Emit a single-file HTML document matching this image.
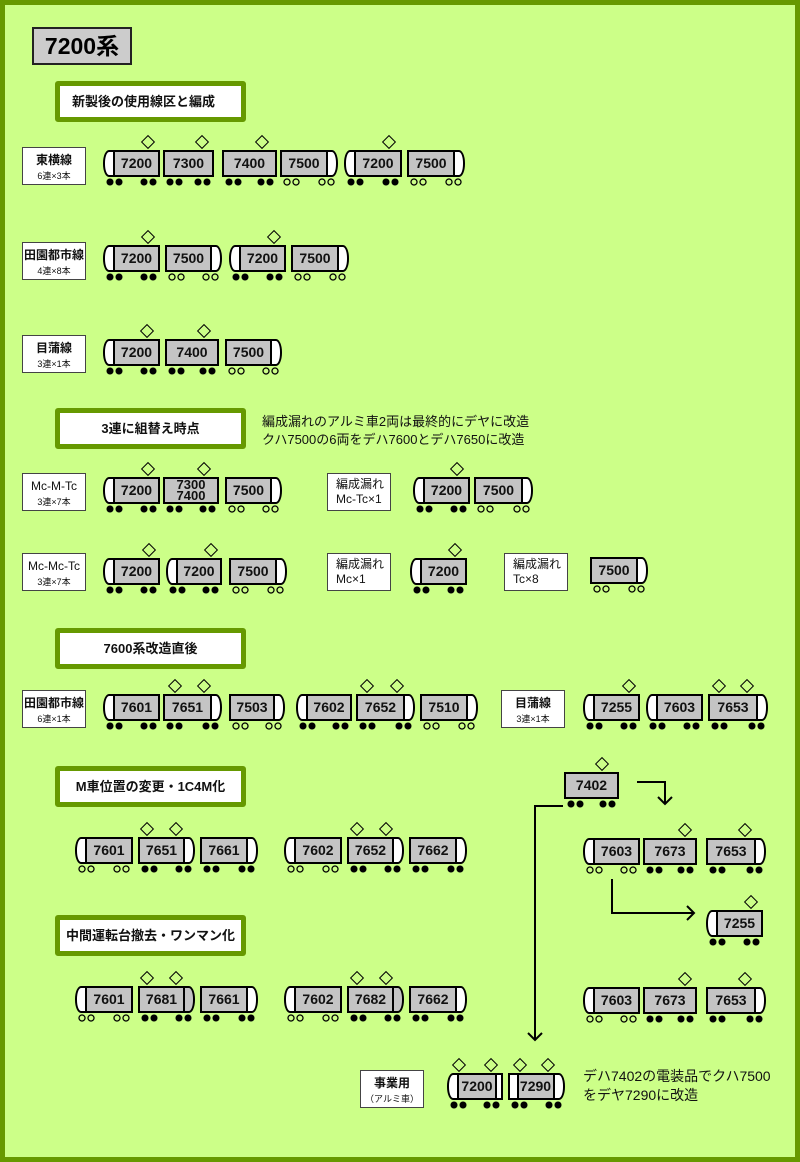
<!DOCTYPE html>
<html><head><meta charset="utf-8">
<style>
*{margin:0;padding:0}
body{width:800px;height:1162px;background:#669900;position:relative;overflow:hidden;font-family:"Liberation Sans","Noto Sans CJK JP",sans-serif}
#bg{position:absolute;left:5px;top:5px;width:790px;height:1152px;background:#ccff88}
.car{position:absolute;height:27px}
.b{position:absolute;top:0;height:27px;background:#c4c4c4;border:2px solid #000;box-sizing:border-box;font:bold 14px/23px "Liberation Sans",sans-serif;text-align:center;color:#111}
.nl,.nr{position:absolute;top:0;width:16px;height:27px;background:#fff;border:2px solid #000;box-sizing:border-box}
.nl{left:0;border-radius:6px 0 0 6px/13px 0 0 13px}
.nr{right:0;border-radius:0 6px 6px 0/0 13px 13px 0}
.g{background:#c4c4c4}
.w{position:absolute;top:28px;left:0;right:0;height:8px;background-repeat:no-repeat;background-size:8px 8px;background-position:3px 0,12px 0,right 12px top 0,right 3px top 0}
.f{background-image:radial-gradient(circle,#000 3.2px,transparent 3.8px),radial-gradient(circle,#000 3.2px,transparent 3.8px),radial-gradient(circle,#000 3.2px,transparent 3.8px),radial-gradient(circle,#000 3.2px,transparent 3.8px)}
.o{background-image:radial-gradient(circle,transparent 2.1px,#000 2.6px,#000 3.3px,transparent 3.9px),radial-gradient(circle,transparent 2.1px,#000 2.6px,#000 3.3px,transparent 3.9px),radial-gradient(circle,transparent 2.1px,#000 2.6px,#000 3.3px,transparent 3.9px),radial-gradient(circle,transparent 2.1px,#000 2.6px,#000 3.3px,transparent 3.9px)}
.p{position:absolute;top:-13px;width:8px;height:8px;border:1.5px solid #000;transform:rotate(45deg)}
.lb{position:absolute;width:64px;height:38px;background:#fff;border:1px solid #444;box-sizing:border-box;text-align:center;color:#111}
.lb b{display:block;font-size:12px;margin-top:5px;line-height:14px}
.lb span{display:block;font-size:9px;margin-top:2px}
.lb2{text-align:left;padding-left:8px}
.lb2 b{font-size:12px;font-weight:normal;margin-top:3px;line-height:15px}
.h{position:absolute;left:55px;width:191px;height:41px;box-sizing:border-box;border:5px solid #669900;border-radius:3px;background:#fff;font:bold 13px/31px "Liberation Sans","Noto Sans CJK JP",sans-serif;text-align:center;color:#111}
.t{position:absolute;font-size:13px;line-height:18px;color:#111}
</style></head><body>
<div id="bg"></div>

<div style="position:absolute;left:32px;top:27px;width:100px;height:38px;box-sizing:border-box;background:#ccc;border:2px solid #222;font:bold 23px/34px 'Liberation Sans','Noto Sans CJK JP',sans-serif;text-align:center">7200系</div>

<div class="h" style="top:81px;text-align:left;padding-left:12px">新製後の使用線区と編成</div>
<div class="h" style="top:408px">3連に組替え時点</div>
<div class="h" style="top:628px">7600系改造直後</div>
<div class="h" style="top:766px">M車位置の変更・1C4M化</div>
<div class="h" style="top:915px">中間運転台撤去・ワンマン化</div>

<div class="lb" style="left:22px;top:147px"><b>東横線</b><span>6連×3本</span></div>
<div class="lb" style="left:22px;top:242px"><b>田園都市線</b><span>4連×8本</span></div>
<div class="lb" style="left:22px;top:335px"><b>目蒲線</b><span>3連×1本</span></div>
<div class="lb" style="left:22px;top:473px"><b style="font-weight:normal">Mc-M-Tc</b><span>3連×7本</span></div>
<div class="lb" style="left:22px;top:553px"><b style="font-weight:normal">Mc-Mc-Tc</b><span>3連×7本</span></div>
<div class="lb lb2" style="left:327px;top:473px"><b>編成漏れ<br>Mc-Tc×1</b></div>
<div class="lb lb2" style="left:327px;top:553px"><b>編成漏れ<br>Mc×1</b></div>
<div class="lb lb2" style="left:504px;top:553px"><b>編成漏れ<br>Tc×8</b></div>
<div class="lb" style="left:22px;top:690px"><b>田園都市線</b><span>6連×1本</span></div>
<div class="lb" style="left:501px;top:690px"><b>目蒲線</b><span>3連×1本</span></div>
<div class="lb" style="left:360px;top:1070px"><b>事業用</b><span style="font-size:9px">（アルミ車）</span></div>

<div class="t" style="left:262px;top:413px">編成漏れのアルミ車2両は最終的にデヤに改造<br>クハ7500の6両をデハ7600とデハ7650に改造</div>
<div class="t" style="left:583px;top:1067px;font-size:14px;line-height:19px">デハ7402の電装品でクハ7500<br>をデヤ7290に改造</div>

<!-- Row A -->
<div class="car" style="left:103px;top:150px;width:57px"><div class="nl"></div><div class="b" style="left:10px;right:0">7200</div><i class="w f"></i><s class="p" style="left:40px"></s></div>
<div class="car" style="left:163px;top:150px;width:51px"><div class="b" style="left:0;right:0">7300</div><i class="w f"></i><s class="p" style="left:34px"></s></div>
<div class="car" style="left:222px;top:150px;width:55px"><div class="b" style="left:0;right:0">7400</div><i class="w f"></i><s class="p" style="left:35px"></s></div>
<div class="car" style="left:280px;top:150px;width:58px"><div class="nr"></div><div class="b" style="left:0;right:10px">7500</div><i class="w o"></i></div>
<div class="car" style="left:344px;top:150px;width:58px"><div class="nl"></div><div class="b" style="left:10px;right:0">7200</div><i class="w f"></i><s class="p" style="left:40px"></s></div>
<div class="car" style="left:407px;top:150px;width:58px"><div class="nr"></div><div class="b" style="left:0;right:10px">7500</div><i class="w o"></i></div>

<!-- Row B -->
<div class="car" style="left:103px;top:245px;width:57px"><div class="nl"></div><div class="b" style="left:10px;right:0">7200</div><i class="w f"></i><s class="p" style="left:40px"></s></div>
<div class="car" style="left:165px;top:245px;width:57px"><div class="nr"></div><div class="b" style="left:0;right:10px">7500</div><i class="w o"></i></div>
<div class="car" style="left:229px;top:245px;width:57px"><div class="nl"></div><div class="b" style="left:10px;right:0">7200</div><i class="w f"></i><s class="p" style="left:40px"></s></div>
<div class="car" style="left:291px;top:245px;width:58px"><div class="nr"></div><div class="b" style="left:0;right:10px">7500</div><i class="w o"></i></div>

<!-- Row C -->
<div class="car" style="left:103px;top:339px;width:57px"><div class="nl"></div><div class="b" style="left:10px;right:0">7200</div><i class="w f"></i><s class="p" style="left:39px"></s></div>
<div class="car" style="left:165px;top:339px;width:54px"><div class="b" style="left:0;right:0">7400</div><i class="w f"></i><s class="p" style="left:34px"></s></div>
<div class="car" style="left:225px;top:339px;width:57px"><div class="nr"></div><div class="b" style="left:0;right:10px">7500</div><i class="w o"></i></div>

<!-- Row D -->
<div class="car" style="left:103px;top:477px;width:57px"><div class="nl"></div><div class="b" style="left:10px;right:0">7200</div><i class="w f"></i><s class="p" style="left:40px"></s></div>
<div class="car" style="left:163px;top:477px;width:56px"><div class="b" style="left:0;right:0;line-height:11px;font-size:13px">7300<br>7400</div><i class="w f"></i><s class="p" style="left:36px"></s></div>
<div class="car" style="left:225px;top:477px;width:57px"><div class="nr"></div><div class="b" style="left:0;right:10px">7500</div><i class="w o"></i></div>
<div class="car" style="left:413px;top:477px;width:57px"><div class="nl"></div><div class="b" style="left:10px;right:0">7200</div><i class="w f"></i><s class="p" style="left:39px"></s></div>
<div class="car" style="left:474px;top:477px;width:59px"><div class="nr"></div><div class="b" style="left:0;right:10px">7500</div><i class="w o"></i></div>

<!-- Row E -->
<div class="car" style="left:103px;top:558px;width:57px"><div class="nl"></div><div class="b" style="left:10px;right:0">7200</div><i class="w f"></i><s class="p" style="left:41px"></s></div>
<div class="car" style="left:166px;top:558px;width:56px"><div class="nl"></div><div class="b" style="left:10px;right:0">7200</div><i class="w f"></i><s class="p" style="left:40px"></s></div>
<div class="car" style="left:229px;top:558px;width:58px"><div class="nr"></div><div class="b" style="left:0;right:10px">7500</div><i class="w o"></i></div>
<div class="car" style="left:410px;top:558px;width:57px"><div class="nl"></div><div class="b" style="left:10px;right:0">7200</div><i class="w f"></i><s class="p" style="left:40px"></s></div>
<div class="car" style="left:590px;top:557px;width:58px"><div class="nr"></div><div class="b" style="left:0;right:10px">7500</div><i class="w o"></i></div>

<!-- Row F -->
<div class="car" style="left:103px;top:694px;width:57px"><div class="nl"></div><div class="b" style="left:10px;right:0">7601</div><i class="w f"></i></div>
<div class="car" style="left:163px;top:694px;width:59px"><div class="nr"></div><div class="b" style="left:0;right:10px">7651</div><i class="w f"></i><s class="p" style="left:7px"></s><s class="p" style="left:36px"></s></div>
<div class="car" style="left:229px;top:694px;width:56px"><div class="nr"></div><div class="b" style="left:0;right:10px">7503</div><i class="w o"></i></div>
<div class="car" style="left:296px;top:694px;width:56px"><div class="nl"></div><div class="b" style="left:10px;right:0">7602</div><i class="w f"></i></div>
<div class="car" style="left:356px;top:694px;width:59px"><div class="nr"></div><div class="b" style="left:0;right:10px">7652</div><i class="w f"></i><s class="p" style="left:6px"></s><s class="p" style="left:36px"></s></div>
<div class="car" style="left:420px;top:694px;width:58px"><div class="nr"></div><div class="b" style="left:0;right:10px">7510</div><i class="w o"></i></div>
<div class="car" style="left:583px;top:694px;width:57px"><div class="nl"></div><div class="b" style="left:10px;right:0">7255</div><i class="w f"></i><s class="p" style="left:41px"></s></div>
<div class="car" style="left:646px;top:694px;width:57px"><div class="nl"></div><div class="b" style="left:10px;right:0">7603</div><i class="w f"></i></div>
<div class="car" style="left:708px;top:694px;width:60px"><div class="nr"></div><div class="b" style="left:0;right:10px">7653</div><i class="w f"></i><s class="p" style="left:6px"></s><s class="p" style="left:34px"></s></div>

<!-- 7402 -->
<div class="car" style="left:564px;top:772px;width:55px"><div class="b" style="left:0;right:0">7402</div><i class="w f"></i><s class="p" style="left:33px"></s></div>

<!-- Row G -->
<div class="car" style="left:75px;top:837px;width:58px"><div class="nl"></div><div class="b" style="left:10px;right:0">7601</div><i class="w o"></i></div>
<div class="car" style="left:138px;top:837px;width:57px"><div class="nr"></div><div class="b" style="left:0;right:10px">7651</div><i class="w f"></i><s class="p" style="left:4px"></s><s class="p" style="left:33px"></s></div>
<div class="car" style="left:200px;top:837px;width:58px"><div class="nr"></div><div class="b" style="left:0;right:10px">7661</div><i class="w f"></i></div>
<div class="car" style="left:284px;top:837px;width:58px"><div class="nl"></div><div class="b" style="left:10px;right:0">7602</div><i class="w o"></i></div>
<div class="car" style="left:347px;top:837px;width:57px"><div class="nr"></div><div class="b" style="left:0;right:10px">7652</div><i class="w f"></i><s class="p" style="left:5px"></s><s class="p" style="left:34px"></s></div>
<div class="car" style="left:409px;top:837px;width:58px"><div class="nr"></div><div class="b" style="left:0;right:10px">7662</div><i class="w f"></i></div>
<div class="car" style="left:583px;top:838px;width:57px"><div class="nl"></div><div class="b" style="left:10px;right:0">7603</div><i class="w o"></i></div>
<div class="car" style="left:643px;top:838px;width:54px"><div class="b" style="left:0;right:0">7673</div><i class="w f"></i><s class="p" style="left:37px"></s></div>
<div class="car" style="left:706px;top:838px;width:60px"><div class="nr"></div><div class="b" style="left:0;right:10px">7653</div><i class="w f"></i><s class="p" style="left:34px"></s></div>

<!-- 7255 -->
<div class="car" style="left:706px;top:910px;width:57px"><div class="nl"></div><div class="b" style="left:10px;right:0">7255</div><i class="w f"></i><s class="p" style="left:40px"></s></div>

<!-- Row H -->
<div class="car" style="left:75px;top:986px;width:58px"><div class="nl"></div><div class="b" style="left:10px;right:0">7601</div><i class="w o"></i></div>
<div class="car" style="left:138px;top:986px;width:57px"><div class="nr g"></div><div class="b" style="left:0;right:10px">7681</div><i class="w f"></i><s class="p" style="left:4px"></s><s class="p" style="left:33px"></s></div>
<div class="car" style="left:200px;top:986px;width:58px"><div class="nr"></div><div class="b" style="left:0;right:10px">7661</div><i class="w f"></i></div>
<div class="car" style="left:284px;top:986px;width:58px"><div class="nl"></div><div class="b" style="left:10px;right:0">7602</div><i class="w o"></i></div>
<div class="car" style="left:347px;top:986px;width:57px"><div class="nr g"></div><div class="b" style="left:0;right:10px">7682</div><i class="w f"></i><s class="p" style="left:5px"></s><s class="p" style="left:34px"></s></div>
<div class="car" style="left:409px;top:986px;width:58px"><div class="nr"></div><div class="b" style="left:0;right:10px">7662</div><i class="w f"></i></div>
<div class="car" style="left:583px;top:987px;width:57px"><div class="nl"></div><div class="b" style="left:10px;right:0">7603</div><i class="w o"></i></div>
<div class="car" style="left:643px;top:987px;width:54px"><div class="b" style="left:0;right:0">7673</div><i class="w f"></i><s class="p" style="left:37px"></s></div>
<div class="car" style="left:706px;top:987px;width:60px"><div class="nr"></div><div class="b" style="left:0;right:10px">7653</div><i class="w f"></i><s class="p" style="left:34px"></s></div>

<!-- Row I -->
<div class="car" style="left:447px;top:1073px;width:56px"><div class="nl"></div><div class="b" style="left:10px;right:0;background:linear-gradient(90deg,#c4c4c4 36px,#000 36px,#000 38px,#fff 38px);padding-right:6px">7200</div><i class="w f"></i><s class="p" style="left:7px"></s><s class="p" style="left:39px"></s></div>
<div class="car" style="left:508px;top:1073px;width:57px"><div class="nr"></div><div class="b" style="left:0;right:10px;background:linear-gradient(90deg,#fff 7px,#000 7px,#000 9px,#c4c4c4 9px);padding-left:8px">7290</div><i class="w f"></i><s class="p" style="left:7px"></s><s class="p" style="left:35px"></s></div>

<svg width="800" height="1162" style="position:absolute;left:0;top:0" fill="none" stroke="#000" stroke-width="2">
<path d="M637 782H665V804"/><path d="M658 797L665 804L672 797"/>
<path d="M563 806H535V1040"/><path d="M528 1033L535 1040L542 1033"/>
<path d="M612 879V913H694"/><path d="M687 906L694 913L687 920"/>
</svg>
</body></html>
